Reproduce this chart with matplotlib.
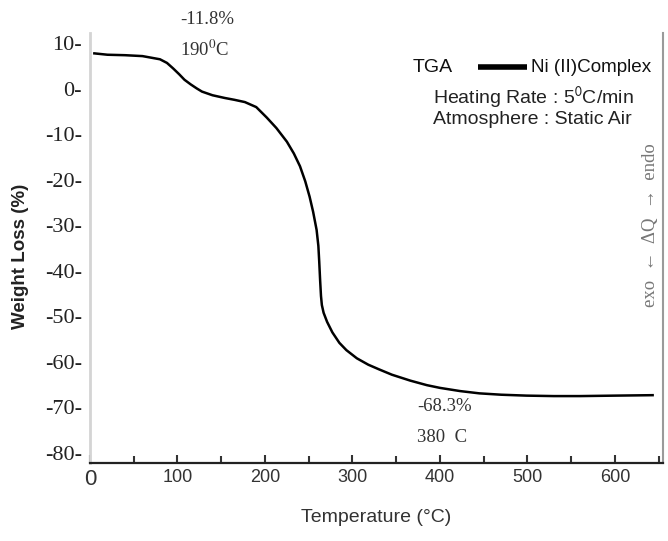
import matplotlib
matplotlib.use("Agg")
import matplotlib.pyplot as plt

# TGA curve of the Ni(II) complex
temp = [5, 20, 40, 60, 80, 88, 95, 102, 108, 115, 122, 128, 140, 154, 165, 177,
        190, 202, 213, 225, 233, 240, 246, 251, 255, 259, 261, 262, 263, 264,
        265, 267, 271, 277, 285, 293, 305, 318, 330, 345, 366, 385, 400, 423,
        445, 470, 499, 530, 560, 600, 643]
weight = [7.8, 7.5, 7.4, 7.2, 6.5, 5.7, 4.5, 3.2, 2.0, 1.0, 0.1, -0.6, -1.4,
          -2.0, -2.4, -2.9, -4.0, -6.3, -8.6, -11.6, -14.2, -17.0, -20.3, -23.7,
          -27.0, -31.0, -34.5, -38.0, -42.0, -45.5, -47.5, -49.2, -51.2, -53.5,
          -55.8, -57.4, -59.2, -60.6, -61.6, -62.8, -64.1, -65.1, -65.7, -66.4,
          -66.9, -67.2, -67.4, -67.5, -67.5, -67.4, -67.3]

x_ticks = [0, 100, 200, 300, 400, 500, 600]
y_ticks = [10, 0, -10, -20, -30, -40, -50, -60, -70, -80]

plt.rcParams['mathtext.fontset'] = 'stix'
serif = ['Liberation Serif', 'DejaVu Serif']
sans = ['Liberation Sans', 'DejaVu Sans']

fig = plt.figure(figsize=(6.68, 5.41), dpi=100)
ax = fig.add_axes([0.1347, 0.1442, 0.858, 0.795])

ax.plot(temp, weight, color='black', lw=1.8)

ax.set_xlim(0, 655)
ax.set_ylim(-82.2, 12.3)

# axis styling
ax.spines['top'].set_visible(False)
ax.spines['left'].set_color('#d4d4d4')
ax.spines['left'].set_linewidth(2)
ax.spines['right'].set_color('#9a9a9a')
ax.spines['right'].set_linewidth(1.5)
ax.spines['bottom'].set_color('#222222')
ax.spines['bottom'].set_linewidth(1.6)

ax.set_yticks(y_ticks)
ax.set_yticklabels([f'{v}-' for v in y_ticks], family=serif, fontsize=16,
                   color='#222222')
ax.tick_params(axis='y', length=0, pad=6)

ax.set_xticks(x_ticks)
ax.set_xticks(range(50, 655, 100), minor=True)
ax.set_xticklabels([str(v) for v in x_ticks], family=sans, fontsize=13,
                   color='#333333')
ax.xaxis.get_ticklabels()[0].set_fontsize(16)
ax.tick_params(axis='x', which='major', direction='in', length=6, width=1.5,
               color='#333333', pad=4)
ax.tick_params(axis='x', which='minor', direction='in', length=5, width=1.5,
               color='#333333')

ax.set_xlabel('Temperature (°C)', family=sans, fontsize=14, color='#333333',
              labelpad=14)
ax.set_ylabel('Weight Loss (%)', family=sans, fontsize=13.5, fontweight='bold',
              color='#222222')
ax.yaxis.set_label_coords(-0.107, 0.48)

# step annotations
ax.text(103, 15.2, '-11.8%', family=serif, fontsize=13.5, color='#333333',
        va='center', ha='left', clip_on=False)
ax.text(103, 8.6, r'190$^{0}$C', family=serif, fontsize=13.5, color='#333333',
        va='center', ha='left')
ax.text(374, -69.8, '-68.3%', family=serif, fontsize=13.5, color='#333333',
        va='center', ha='left')
ax.text(374, -76.6, '380  C', family=serif, fontsize=13.5, color='#333333',
        va='center', ha='left')

# legend-like block
ax.text(369, 4.8, 'TGA', family=sans, fontsize=14, color='#111111',
        va='center', ha='left')
ax.plot([443, 500], [4.8, 4.8], color='black', lw=4, solid_capstyle='butt')
ax.text(504, 4.8, 'Ni (II)Complex', family=sans, fontsize=13.6,
        color='#111111', va='center', ha='left')
ax.text(392, -2.0, r'Heating Rate : 5$^{\mathsf{0}}$C/min', family=sans,
        fontsize=14, color='#222222', va='center', ha='left')
ax.text(392, -6.8, 'Atmosphere : Static Air', family=sans, fontsize=14,
        color='#222222', va='center', ha='left')

# DTA direction label along the right edge
ax.text(641, -30, 'exo  \u2190  \u0394Q  \u2192  endo', family=serif,
        fontsize=13.5, color='#777777', rotation=90, va='center', ha='center')

fig.savefig('out.png', dpi=100)
